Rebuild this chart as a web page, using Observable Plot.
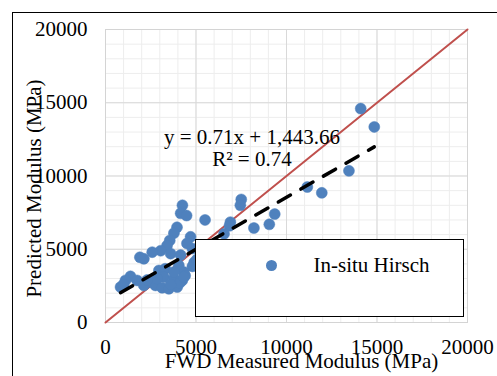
<!DOCTYPE html>
<html><head><meta charset="utf-8">
<script src="https://cdn.jsdelivr.net/npm/d3@7"></script>
<script src="https://cdn.jsdelivr.net/npm/@observablehq/plot@0.6"></script>
<style>
html,body{margin:0;padding:0;background:#fff;overflow:hidden;}
#wrap{position:relative;width:497px;height:376px;overflow:hidden;}
#border{position:absolute;left:12px;top:12px;width:700px;height:700px;border:1.5px solid #000;box-sizing:border-box;}
#chart{position:absolute;left:0;top:0;}
#chart svg text{font-family:"Liberation Serif",serif;}
#legend{position:absolute;left:195px;top:239px;width:269px;height:78px;border:1.5px solid #000;background:#fff;box-sizing:border-box;font-family:"Liberation Serif",serif;font-size:21px;color:#000;}
#legend .dot{position:absolute;left:70px;top:20px;width:11px;height:11px;border-radius:50%;background:#4F81BD;}
#legend .lab{position:absolute;left:117.5px;top:15px;line-height:21px;white-space:nowrap;}
</style>
</head><body>
<div id="wrap"><div id="border"></div><div id="chart"></div>
<div id="legend"><div class="dot"></div><div class="lab" id="legLabel"></div></div></div>
<script>
const seriesName = "In-situ Hirsch";
const xLabel = "FWD Measured Modulus (MPa)";
const yLabel = "Predicted Modulus (MPa)";
const equationText = "y = 0.71x + 1,443.66\nR\u00B2 = 0.74";
const trendSlope = 0.71;
const trendIntercept = 1443.66;
const axisDomain = [0, 20000];
const majorTicks = [0, 5000, 10000, 15000, 20000];
const minorTicks = [0,1000,2000,3000,4000,5000,6000,7000,8000,9000,10000,11000,12000,13000,14000,15000,16000,17000,18000,19000,20000];

// FWD measured modulus (MPa)
const fwdMeasured = [14100,14850,13450,11150,11950,9350,9050,8200,7500,7450,5500,6900,6850,6550,
  4250,4150,4480,3950,3780,4700,3550,3400,4500,3050,3600,2580,2120,4150,4800,4900,4800,2950,3300,4050,4330,
  1380,1100,830,1750,2490,2760,3130,3500,3960,4240,3220,3780,2120,3780,2850,
  1900,4100,3600,4400,2300,1000,5050,4330];
// Predicted modulus (MPa)
const predicted = [14600,13350,10350,9250,8850,7400,6700,6450,8400,8000,7000,6850,6600,6050,
  8000,7450,7300,6500,6100,5850,5600,5250,5400,4900,4700,4800,4350,4600,5050,4100,3830,3550,3670,3900,3440,
  3150,2870,2420,2870,2760,2530,2370,2300,2420,2870,3100,2990,2530,3440,2990,
  4450,2700,2600,3200,2900,2600,4300,3100];

document.getElementById("legLabel").textContent = seriesName;

const points = fwdMeasured.map((x, i) => ({x, y: predicted[i]}));
const trend = d3.extent(fwdMeasured).map(x => ({x, y: trendSlope * x + trendIntercept}));
const diag = axisDomain.map(v => ({x: v, y: v}));

const chart = Plot.plot({
  width: 497, height: 376,
  marginLeft: 105, marginRight: 30, marginTop: 29, marginBottom: 54,
  style: {fontFamily: "'Liberation Serif', serif", fontSize: "21px", color: "#000", background: "transparent", overflow: "visible"},
  x: {domain: axisDomain, ticks: 4, tickFormat: "d", tickSize: 0, tickPadding: 17, label: null},
  y: {domain: axisDomain, ticks: 4, tickFormat: "d", tickSize: 0, tickPadding: 18, label: null},
  marks: [
    Plot.ruleX(minorTicks, {stroke: "#EDEDED", strokeWidth: 1}),
    Plot.ruleY(minorTicks, {stroke: "#EDEDED", strokeWidth: 1}),
    Plot.ruleX(majorTicks, {stroke: "#D9D9D9", strokeWidth: 1}),
    Plot.ruleY(majorTicks, {stroke: "#D9D9D9", strokeWidth: 1}),
    Plot.frame({stroke: "#D4D4D4"}),
    Plot.line(diag, {x: "x", y: "y", stroke: "#C0504D", strokeWidth: 2}),
    Plot.dot(points, {x: "x", y: "y", r: 5.5, fill: "#4F81BD", stroke: "#4F81BD", strokeWidth: 0.5}),
    Plot.line(trend, {x: "x", y: "y", stroke: "#000", strokeWidth: 3.5, strokeDasharray: "14,12"}),
    Plot.text([equationText], {frameAnchor: "top-left", textAnchor: "middle", lineAnchor: "top", dx: 146.5, dy: 99.4, lineHeight: 1.033, fontSize: 21, fill: "#000"}),
    Plot.text([xLabel], {frameAnchor: "bottom", textAnchor: "middle", lineAnchor: "middle", dx: 15, dy: 38.8, fontSize: 21, fill: "#000"}),
    Plot.text([yLabel], {frameAnchor: "left", textAnchor: "middle", lineAnchor: "middle", rotate: -90, dx: -71.7, dy: 12.5, fontSize: 21, fill: "#000"})
  ]
});
document.getElementById("chart").appendChild(chart);
</script>
</body></html>
